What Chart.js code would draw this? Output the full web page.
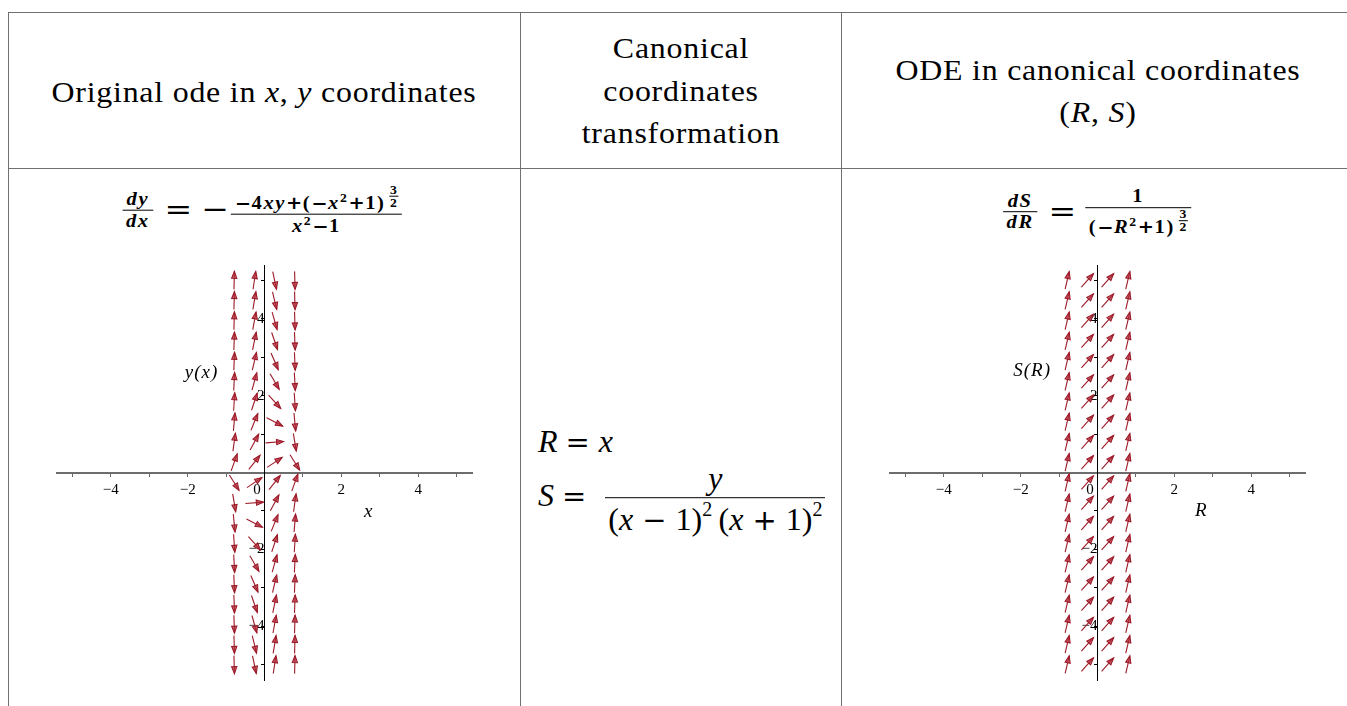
<!DOCTYPE html>
<html>
<head>
<meta charset="utf-8">
<title>Canonical coordinates</title>
<script src="https://cdn.jsdelivr.net/npm/chart.js@4.4.1/dist/chart.umd.min.js"></script>
<style>
  html, body { margin: 0; padding: 0; background: #fff; }
  body { width: 1347px; height: 706px; overflow: hidden; position: relative;
         font-family: "Liberation Serif", "DejaVu Serif", serif; color: #000; }
  .rule { position: absolute; background: #707070; }
  .c { position: absolute; transform: translate(-50%, -50%); white-space: nowrap; }
  .l { position: absolute; transform: translateY(-50%); white-space: nowrap; }
  .hd { font-size: 29px; letter-spacing: 0.7px; transform: translate(-50%, -50%) scaleX(1.1); }
  .frac { display: inline-flex; flex-direction: column; vertical-align: middle; text-align: center; }
  .frac > .num { border-bottom: 1.5px solid #000; padding: 0 3px; line-height: 1.15; }
  .frac > .den { padding: 0 3px; line-height: 1.15; }
  .m { font-weight: bold; font-size: 18px; letter-spacing: 1.4px; transform: translate(-50%, -50%) scaleX(1.14); }
  .m .b { font-family: "DejaVu Sans", sans-serif; font-size: 17px; letter-spacing: 0.5px; }
  .m .bigop { font-family: "DejaVu Sans", sans-serif; font-weight: normal; font-size: 29px;
              vertical-align: middle; margin: 0 8px 0 10px; position: relative; top: -1px; letter-spacing: 0; }
  .m sup { font-size: 12px; vertical-align: 7px; }
  .m sup.pw { vertical-align: 10px; }
  .m .tiny { font-size: 12px; margin-left: 3px; letter-spacing: 0; }
  .m .tiny > .num { border-bottom-width: 1px; padding: 0 1px; line-height: 1; }
  .m .tiny > .den { padding: 0 1px; line-height: 1; }
  .mid { font-size: 32px; }
  .mid .op { font-family: "DejaVu Sans", sans-serif; font-size: 29px; margin: 0 9px 0 8px; }
  .mid .den .op { margin: 0 9px; }
  .mid sup { font-size: 20px; vertical-align: 14px; }
  canvas { position: absolute; }
</style>
</head>
<body>

<!-- table rules -->
<div class="rule" style="left:8px;top:11.5px;width:1339px;height:1.5px"></div>
<div class="rule" style="left:8px;top:167.5px;width:1339px;height:1.5px"></div>
<div class="rule" style="left:7.5px;top:11.5px;width:1.5px;height:695px"></div>
<div class="rule" style="left:519.5px;top:11.5px;width:1.5px;height:695px"></div>
<div class="rule" style="left:840.5px;top:11.5px;width:1.5px;height:695px"></div>

<!-- header row -->
<div class="c hd" style="left:264px;top:92px">Original ode in <i>x</i>, <i>y</i> coordinates</div>
<div class="c hd" style="left:681px;top:48px">Canonical</div>
<div class="c hd" style="left:681px;top:91px">coordinates</div>
<div class="c hd" style="left:681px;top:133px">transformation</div>
<div class="c hd" style="left:1098px;top:70px">ODE in canonical coordinates</div>
<div class="c hd" style="left:1098px;top:112px">(<i>R</i>, <i>S</i>)</div>

<!-- equations above the fields -->
<div class="c m" style="left:262px;top:210px">
  <span class="frac"><span class="num"><i>dy</i></span><span class="den"><i>dx</i></span></span><span class="bigop">=</span><span class="bigop" style="margin:0 2px 0 0">&minus;</span><span class="frac"><span class="num"><span class="b">&minus;</span>4<i>xy</i><span class="b">+</span>(<span class="b">&minus;</span><i>x</i><sup>2</sup><span class="b">+</span>1)<sup class="pw"><span class="frac tiny"><span class="num">3</span><span class="den">2</span></span></sup></span><span class="den"><i>x</i><sup>2</sup><span class="b">&minus;</span>1</span></span>
</div>
<div class="c m" style="left:1097px;top:212px">
  <span class="frac"><span class="num"><i>dS</i></span><span class="den"><i>dR</i></span></span><span class="bigop">=</span><span class="frac"><span class="num">1</span><span class="den">(<span class="b">&minus;</span><i>R</i><sup>2</sup><span class="b">+</span>1)<sup class="pw"><span class="frac tiny"><span class="num">3</span><span class="den">2</span></span></sup></span></span>
</div>

<!-- transformation -->
<div class="l mid" style="left:538px;top:441px"><i>R</i><span class="op">=</span><i>x</i></div>
<div class="l mid" style="left:538px;top:499px"><i>S</i><span class="op" style="margin-right:19px">=</span><span class="frac"><span class="num"><i>y</i></span><span class="den">(<i>x</i><span class="op">&minus;</span>1)<sup>2</sup>&thinsp;(<i>x</i><span class="op">+</span>1)<sup>2</sup></span></span></div>

<canvas id="fieldXY" width="440" height="440" style="left:45px;top:253px"></canvas>
<canvas id="fieldRS" width="440" height="440" style="left:878px;top:253px"></canvas>

<script>
// Grid of arrow positions (only the strip |x| < 1 where the fields are real)
const fieldColumns = [-0.789, -0.263, 0.263, 0.789];
const fieldRows = [-5, -4.474, -3.947, -3.421, -2.895, -2.368, -1.842, -1.316, -0.789, -0.263,
                   0.263, 0.789, 1.316, 1.842, 2.368, 2.895, 3.421, 3.947, 4.474, 5];

// Axis extent and ticks
const axisMin = -5.4;
const axisMax = 5.4;
const axisTicks = [-5, -4, -3, -2, -1, 0, 1, 2, 3, 4, 5];
const labelledTicks = [-4, -2, 0, 2, 4];

// dy/dx = -(-4xy + (-x^2+1)^(3/2)) / (x^2 - 1)
function slopeOriginal(x, y) {
  return -(-4 * x * y + Math.pow(-x * x + 1, 1.5)) / (x * x - 1);
}
// dS/dR = 1 / (-R^2+1)^(3/2)
function slopeCanonical(R, S) {
  return 1 / Math.pow(-R * R + 1, 1.5);
}

function fieldPoints(slope) {
  const pts = [];
  for (const x of fieldColumns) {
    for (const y of fieldRows) {
      pts.push({ x: x, y: y, m: slope(x, y) });
    }
  }
  return pts;
}

const ARROW_COLOR = '#9c1a28';
const ARROW_FILL = 'rgba(178, 40, 56, 0.7)';

// Draws a fixed-length arrow at each point, aligned with the local slope
const slopeArrows = {
  id: 'slopeArrows',
  afterDatasetsDraw(chart) {
    const sx = chart.scales.x, sy = chart.scales.y;
    const kx = Math.abs(sx.getPixelForValue(1) - sx.getPixelForValue(0));
    const ky = Math.abs(sy.getPixelForValue(1) - sy.getPixelForValue(0));
    const ctx = chart.ctx;
    const meta = chart.getDatasetMeta(0);
    const data = chart.data.datasets[0].data;
    const L = 18, headLen = 7, headHalf = 2.6;
    ctx.save();
    ctx.lineWidth = 1.1;
    ctx.strokeStyle = ARROW_COLOR;
    ctx.lineJoin = 'miter';
    meta.data.forEach((el, i) => {
      const m = data[i].m;
      let dx = kx, dy = -m * ky;
      const n = Math.hypot(dx, dy);
      dx /= n; dy /= n;
      const tx = el.x - dx * L / 2, ty = el.y - dy * L / 2;
      const hx = el.x + dx * L / 2, hy = el.y + dy * L / 2;
      const bx = hx - dx * headLen, by = hy - dy * headLen;
      ctx.beginPath();
      ctx.moveTo(tx, ty);
      ctx.lineTo(hx, hy);
      ctx.stroke();
      ctx.beginPath();
      ctx.moveTo(hx, hy);
      ctx.lineTo(bx - dy * headHalf, by + dx * headHalf);
      ctx.lineTo(bx + dy * headHalf, by - dx * headHalf);
      ctx.closePath();
      ctx.fillStyle = ARROW_FILL;
      ctx.fill();
      ctx.stroke();
    });
    ctx.restore();
  }
};

// Axis names placed at data coordinates
const axisNames = {
  id: 'axisNames',
  afterDraw(chart, args, opts) {
    const ctx = chart.ctx;
    const sx = chart.scales.x, sy = chart.scales.y;
    ctx.save();
    ctx.fillStyle = '#000';
    ctx.textBaseline = 'middle';
    ctx.textAlign = 'center';
    ctx.letterSpacing = '1px';
    for (const item of opts.items || []) {
      ctx.font = item.font;
      ctx.fillText(item.text, sx.getPixelForValue(item.at[0]), sy.getPixelForValue(item.at[1]));
    }
    ctx.restore();
  }
};

function tickLabel(isX) {
  return function (value) {
    if (!labelledTicks.includes(value)) return '';
    if (value === 0) return isX ? '0\u2003' : '';
    return value < 0 ? '\u2212' + (-value) : String(value);
  };
}

function axisOptions(isX) {
  return {
    type: 'linear',
    min: axisMin,
    max: axisMax,
    position: isX ? { y: 0 } : { x: 0 },
    afterBuildTicks: (scale) => { scale.ticks = axisTicks.map(v => ({ value: v })); },
    grid: { display: true, drawOnChartArea: false, drawTicks: true, tickLength: 3,
            tickColor: isX ? '#666' : '#000', tickWidth: 1 },
    border: { display: true, color: isX ? '#6d6d6d' : '#000', width: isX ? 2 : 1 },
    ticks: { autoSkip: false, maxRotation: 0, minRotation: 0, padding: isX ? 6 : 1, color: '#000',
             font: { family: 'Liberation Serif', size: 15 }, callback: tickLabel(isX) }
  };
}

function makeField(id, slope, names) {
  new Chart(document.getElementById(id), {
    type: 'scatter',
    data: { datasets: [{ data: fieldPoints(slope), pointRadius: 0, pointHoverRadius: 0, showLine: false }] },
    options: {
      responsive: false,
      animation: false,
      events: [],
      layout: { padding: { left: 12, top: 12, right: 13, bottom: 13 } },
      plugins: { legend: { display: false }, tooltip: { enabled: false }, axisNames: { items: names } },
      scales: { x: axisOptions(true), y: axisOptions(false) }
    },
    plugins: [slopeArrows, axisNames]
  });
}

makeField('fieldXY', slopeOriginal, [
  { text: 'y(x)', at: [-1.64, 2.6], font: 'italic 19px "Liberation Serif"' },
  { text: 'x', at: [2.71, -1.04], font: 'italic 19px "Liberation Serif"' }
]);
makeField('fieldRS', slopeCanonical, [
  { text: 'S(R)', at: [-1.7, 2.65], font: 'italic 19px "Liberation Serif"' },
  { text: 'R', at: [2.7, -0.99], font: 'italic 19px "Liberation Serif"' }
]);
</script>
</body>
</html>
